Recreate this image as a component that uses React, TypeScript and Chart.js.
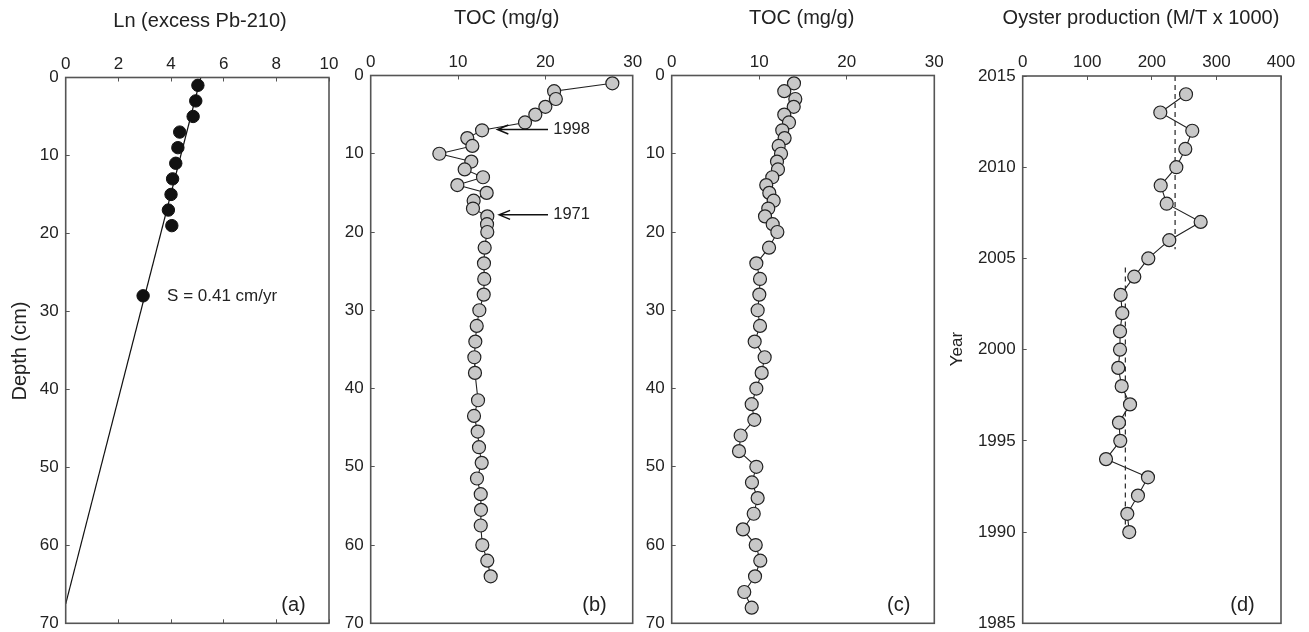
import React, { useEffect, useRef } from "react";
import { Chart, registerables } from "chart.js";

Chart.register(...registerables);

// ---------------- DATA ----------------
// (a) Ln(excess Pb-210) vs depth
const pbDepth = [1, 3, 5, 7, 9, 11, 13, 15, 17, 19, 28];
const pbLn = [5.02, 4.94, 4.84, 4.33, 4.26, 4.18, 4.06, 4.0, 3.9, 4.03, 2.94];
const fitDepth = [0, 67.5];
const fitLn = [5.13, 0];
const pbTicksX = { min: 0, max: 10, step: 2 };

// (b) TOC core 1
const tocBDepth = [1, 2, 3, 4, 5, 6, 7, 8, 9, 10, 11, 12, 13, 14, 15, 16, 17, 18, 19, 20, 22, 24, 26, 28, 30, 32, 34, 36, 38, 41.5, 43.5, 45.5, 47.5, 49.5, 51.5, 53.5, 55.5, 57.5, 60, 62, 64];
const tocBValue = [27.67, 21.0, 21.2, 20.0, 18.85, 17.67, 12.75, 11.06, 11.64, 7.86, 11.52, 10.76, 12.86, 9.92, 13.28, 11.79, 11.71, 13.35, 13.32, 13.35, 13.05, 12.97, 13.0, 12.94, 12.44, 12.14, 11.98, 11.87, 11.94, 12.29, 11.83, 12.25, 12.4, 12.71, 12.17, 12.6, 12.63, 12.6, 12.78, 13.35, 13.74];
const arrowYears = ["1998", "1971"];
const arrowDepths = [6.9, 17.8];
const arrowFrom = [20.3, 20.3];
const arrowTo = [14.5, 14.7];

// (c) TOC core 2
const tocCDepth = [1, 2, 3, 4, 5, 6, 7, 8, 9, 10, 11, 12, 13, 14, 15, 16, 17, 18, 19, 20, 22, 24, 26, 28, 30, 32, 34, 36, 38, 40, 42, 44, 46, 48, 50, 52, 54, 56, 58, 60, 62, 64, 66, 68];
const tocCValue = [13.97, 12.86, 14.12, 13.94, 12.86, 13.4, 12.63, 12.9, 12.22, 12.49, 12.03, 12.14, 11.49, 10.8, 11.15, 11.65, 11.03, 10.66, 11.54, 12.07, 11.12, 9.67, 10.09, 10.01, 9.82, 10.09, 9.48, 10.62, 10.28, 9.67, 9.14, 9.44, 7.88, 7.69, 9.67, 9.17, 9.82, 9.37, 8.14, 9.6, 10.12, 9.52, 8.29, 9.14];

// (d) Oyster production
const oysterYear = [2014, 2013, 2012, 2011, 2010, 2009, 2008, 2007, 2006, 2005, 2004, 2003, 2002, 2001, 2000, 1999, 1998, 1997, 1996, 1995, 1994, 1993, 1992, 1991, 1990];
const oysterProd = [252.9, 213.1, 262.6, 251.8, 237.9, 213.7, 223, 275.6, 227, 194.5, 172.8, 151.7, 154.2, 150.7, 150.7, 148, 153.3, 166.2, 149.1, 151.1, 129, 194, 178.5, 162, 165];
const meanRecent = 236;
const meanRecentYears = [2015, 2005.5];
const meanEarly = 159;
const meanEarlyYears = [2004.5, 1989.8];

// ---------------- STYLE ----------------
const FONT = "'Liberation Sans', Arial, Helvetica, sans-serif";
const TXT = "#222";
const AXIS = "#555";
const CANVAS_H = 650;

const decoPlugin = {
  id: "deco",
  afterDraw(chart: any, _args: any, opts: any) {
    const { ctx, chartArea: a, scales } = chart;
    ctx.save();
    ctx.strokeStyle = AXIS;
    ctx.lineWidth = 1.6;
    ctx.strokeRect(a.left, a.top, a.right - a.left, a.bottom - a.top);
    for (const ar of opts.arrows || []) {
      const x1 = scales.x.getPixelForValue(ar.from);
      const x2 = scales.x.getPixelForValue(ar.to);
      const y = scales.y.getPixelForValue(ar.at);
      ctx.strokeStyle = "#111";
      ctx.lineWidth = 1.4;
      ctx.beginPath();
      ctx.moveTo(x1, y);
      ctx.lineTo(x2, y);
      ctx.moveTo(x2 + 11, y - 4.5);
      ctx.lineTo(x2, y);
      ctx.lineTo(x2 + 11, y + 4.5);
      ctx.stroke();
    }
    for (const t of opts.texts || []) {
      ctx.font = `${t.size}px ${FONT}`;
      ctx.fillStyle = TXT;
      ctx.textAlign = t.align || "center";
      ctx.textBaseline = "middle";
      let x: number, y: number;
      if (t.data) {
        x = scales.x.getPixelForValue(t.x);
        y = scales.y.getPixelForValue(t.y);
      } else {
        x = t.x - opts.offsetX;
        y = t.y;
      }
      if (t.rot) {
        ctx.save();
        ctx.translate(x, y);
        ctx.rotate(-Math.PI / 2);
        ctx.fillText(t.text, 0, 0);
        ctx.restore();
      } else {
        ctx.fillText(t.text, x, y);
      }
    }
    ctx.restore();
  },
};

const tickFont = { size: 17, family: FONT };

function xTop(min: number, max: number, step: number, height: number) {
  return {
    type: "linear",
    position: "top",
    min,
    max,
    ticks: { stepSize: step, padding: 7, color: TXT, font: tickFont, maxRotation: 0, callback: (v: any) => String(v) },
    grid: { drawOnChartArea: false, tickLength: -4, color: AXIS, lineWidth: 1 },
    border: { display: false },
    afterFit: (s: any) => {
      s.height = height;
    },
  };
}

function yLeft(min: number, max: number, step: number, width: number, reverse: boolean) {
  return {
    type: "linear",
    position: "left",
    min,
    max,
    reverse,
    ticks: { stepSize: step, padding: 11, color: TXT, font: tickFont, callback: (v: any) => String(v) },
    grid: { drawOnChartArea: false, tickLength: -4, color: AXIS, lineWidth: 1 },
    border: { display: false },
    afterFit: (s: any) => {
      s.width = width;
    },
  };
}

type Layout = { canvasLeft: number; canvasW: number; plotLeft: number; plotRight: number; top: number; bottom: number };

const LAYOUT_A: Layout = { canvasLeft: 0, canvasW: 360, plotLeft: 65.7, plotRight: 329, top: 77.5, bottom: 623.3 };
const LAYOUT_B: Layout = { canvasLeft: 320, canvasW: 340, plotLeft: 370.7, plotRight: 632.7, top: 75.5, bottom: 623.3 };
const LAYOUT_C: Layout = { canvasLeft: 620, canvasW: 340, plotLeft: 671.7, plotRight: 934.3, top: 75.5, bottom: 623.3 };
const LAYOUT_D: Layout = { canvasLeft: 940, canvasW: 369, plotLeft: 1022.7, plotRight: 1281, top: 76, bottom: 623.3 };

function baseOptions(L: Layout, scales: any, deco: any) {
  return {
    animation: false,
    responsive: false,
    events: [],
    layout: {
      padding: { left: 0, top: 0, right: L.canvasLeft + L.canvasW - L.plotRight, bottom: CANVAS_H - L.bottom },
    },
    plugins: {
      legend: { display: false },
      tooltip: { enabled: false },
      deco: { offsetX: L.canvasLeft, ...deco },
    },
    scales,
  };
}

const grayPoints = {
  showLine: true,
  borderColor: "#222",
  borderWidth: 1.1,
  pointRadius: 6.5,
  pointBackgroundColor: "#c8c8c8",
  pointBorderColor: "#222",
  pointBorderWidth: 1.2,
};

function configA() {
  const L = LAYOUT_A;
  return {
    type: "scatter",
    data: {
      datasets: [
        {
          data: pbDepth.map((d, i) => ({ x: pbLn[i], y: d })),
          showLine: false,
          pointRadius: 6.2,
          pointBackgroundColor: "#111",
          pointBorderColor: "#111",
          pointBorderWidth: 1,
        },
        {
          data: fitDepth.map((d, i) => ({ x: fitLn[i], y: d })),
          showLine: true,
          borderColor: "#111",
          borderWidth: 1.2,
          pointRadius: 0,
        },
      ],
    },
    options: baseOptions(
      L,
      {
        x: xTop(pbTicksX.min, pbTicksX.max, pbTicksX.step, L.top),
        x2: {
          type: "linear",
          position: "bottom",
          min: pbTicksX.min,
          max: pbTicksX.max,
          ticks: { display: false, stepSize: pbTicksX.step },
          grid: { drawOnChartArea: false, tickLength: -4, color: AXIS, lineWidth: 1 },
          border: { display: false },
          afterFit: (s: any) => {
            s.height = 0;
          },
        },
        y: yLeft(0, 70, 10, L.plotLeft - L.canvasLeft, true),
      },
      {
        texts: [
          { text: "Ln (excess Pb-210)", x: 200, y: 21.5, size: 20 },
          { text: "Depth (cm)", x: 20, y: 351, size: 20, rot: true },
          { text: "S = 0.41 cm/yr", x: 3.85, y: 28, size: 17, align: "left", data: true },
          { text: "(a)", x: 293.5, y: 605, size: 20 },
        ],
      }
    ),
    plugins: [decoPlugin],
  };
}

function configB() {
  const L = LAYOUT_B;
  return {
    type: "scatter",
    data: {
      datasets: [{ data: tocBDepth.map((d, i) => ({ x: tocBValue[i], y: d })), ...grayPoints }],
    },
    options: baseOptions(
      L,
      {
        x: xTop(0, 30, 10, L.top),
        y: yLeft(0, 70, 10, L.plotLeft - L.canvasLeft, true),
      },
      {
        arrows: arrowDepths.map((d, i) => ({ at: d, from: arrowFrom[i], to: arrowTo[i] })),
        texts: [
          { text: "TOC (mg/g)", x: 506.7, y: 18, size: 20 },
          ...arrowYears.map((yr, i) => ({ text: yr, x: arrowFrom[i] + 0.6, y: arrowDepths[i], size: 16.5, align: "left", data: true })),
          { text: "(b)", x: 594.5, y: 605, size: 20 },
        ],
      }
    ),
    plugins: [decoPlugin],
  };
}

function configC() {
  const L = LAYOUT_C;
  return {
    type: "scatter",
    data: {
      datasets: [{ data: tocCDepth.map((d, i) => ({ x: tocCValue[i], y: d })), ...grayPoints }],
    },
    options: baseOptions(
      L,
      {
        x: xTop(0, 30, 10, L.top),
        y: yLeft(0, 70, 10, L.plotLeft - L.canvasLeft, true),
      },
      {
        texts: [
          { text: "TOC (mg/g)", x: 801.7, y: 18, size: 20 },
          { text: "(c)", x: 898.7, y: 605, size: 20 },
        ],
      }
    ),
    plugins: [decoPlugin],
  };
}

function configD() {
  const L = LAYOUT_D;
  const dashed = {
    showLine: true,
    borderColor: "#333",
    borderWidth: 1.3,
    borderDash: [5, 4],
    pointRadius: 0,
  };
  return {
    type: "scatter",
    data: {
      datasets: [
        { data: oysterYear.map((y, i) => ({ x: oysterProd[i], y })), ...grayPoints },
        { data: meanRecentYears.map((y) => ({ x: meanRecent, y })), ...dashed },
        { data: meanEarlyYears.map((y) => ({ x: meanEarly, y })), ...dashed },
      ],
    },
    options: baseOptions(
      L,
      {
        x: xTop(0, 400, 100, L.top),
        y: yLeft(1985, 2015, 5, L.plotLeft - L.canvasLeft, false),
      },
      {
        texts: [
          { text: "Oyster production (M/T x 1000)", x: 1141, y: 18, size: 20 },
          { text: "Year", x: 957, y: 349, size: 17, rot: true },
          { text: "(d)", x: 1242.5, y: 605, size: 20 },
        ],
      }
    ),
    plugins: [decoPlugin],
  };
}

function Panel({ layout, make }: { layout: Layout; make: () => any }) {
  const ref = useRef<HTMLCanvasElement | null>(null);
  useEffect(() => {
    if (!ref.current) return;
    const chart = new Chart(ref.current, make());
    return () => chart.destroy();
  }, []);
  return (
    <canvas
      ref={ref}
      width={layout.canvasW}
      height={CANVAS_H}
      style={{ position: "absolute", left: layout.canvasLeft, top: 0, width: layout.canvasW, height: CANVAS_H }}
    />
  );
}

export default function App() {
  return (
    <div
      style={{
        position: "fixed",
        left: 0,
        top: 0,
        width: 1309,
        height: 632,
        overflow: "hidden",
        background: "#fff",
      }}
    >
      <Panel layout={LAYOUT_A} make={configA} />
      <Panel layout={LAYOUT_B} make={configB} />
      <Panel layout={LAYOUT_C} make={configC} />
      <Panel layout={LAYOUT_D} make={configD} />
    </div>
  );
}
